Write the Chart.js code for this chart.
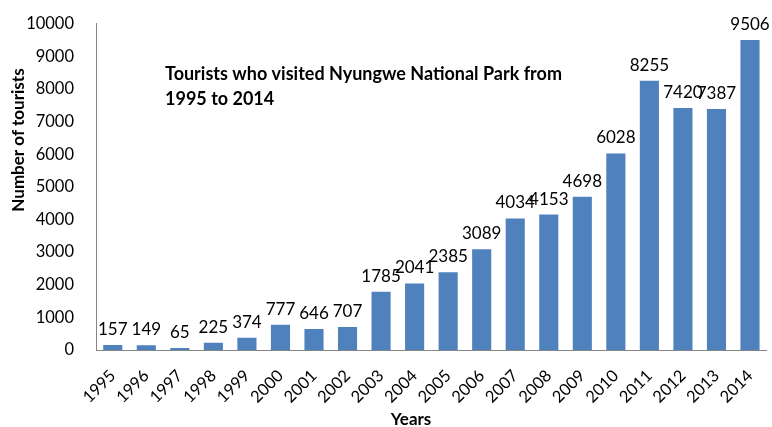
<!DOCTYPE html>
<html>
<head>
<meta charset="utf-8">
<script src="https://cdn.jsdelivr.net/npm/chart.js@4"></script>
<style>
  html, body { margin: 0; padding: 0; background: #fff; }
  #wrap { width: 772px; height: 427px; }
</style>
</head>
<body>
<div id="wrap"><canvas id="chart" width="772" height="427"></canvas></div>
<script>
// Data
const years = ['1995', '1996', '1997', '1998', '1999', '2000', '2001', '2002', '2003', '2004',
  '2005', '2006', '2007', '2008', '2009', '2010', '2011', '2012', '2013', '2014'];
const tourists = [157, 149, 65, 225, 374, 777, 646, 707, 1785, 2041,
  2385, 3089, 4034, 4153, 4698, 6028, 8255, 7420, 7387, 9506];
const titleLines = ['Tourists who visited Nyungwe National Park from', '1995 to 2014'];

const FONT = 'Lato, "Open Sans", sans-serif';

// Value labels above each bar
const valueLabels = {
  id: 'valueLabels',
  afterDatasetsDraw(chart) {
    const ctx = chart.ctx;
    const meta = chart.getDatasetMeta(0);
    ctx.save();
    ctx.font = '17px ' + FONT;
    ctx.fillStyle = '#000';
    ctx.textAlign = 'center';
    ctx.textBaseline = 'bottom';
    meta.data.forEach((bar, i) => {
      ctx.fillText(String(tourists[i]), bar.x, bar.y - 7);
    });
    ctx.restore();
  }
};

// Title inside the plot and axis titles
const textOverlay = {
  id: 'textOverlay',
  afterDraw(chart) {
    const ctx = chart.ctx;
    ctx.save();
    ctx.fillStyle = '#000';
    ctx.font = 'bold 18px ' + FONT;
    ctx.textAlign = 'left';
    ctx.textBaseline = 'alphabetic';
    ctx.fillText(titleLines[0], 165, 80);
    ctx.fillText(titleLines[1], 165, 105);

    ctx.font = 'bold 17px ' + FONT;
    ctx.textAlign = 'center';
    ctx.fillText('Years', 411, 425);

    ctx.translate(19, 140);
    ctx.rotate(-Math.PI / 2);
    ctx.textBaseline = 'middle';
    ctx.fillText('Number of tourists', 0, 0);
    ctx.restore();
  }
};

new Chart(document.getElementById('chart'), {
  type: 'bar',
  data: {
    labels: years,
    datasets: [{
      data: tourists,
      backgroundColor: '#4F81BD',
      borderWidth: 0,
      barPercentage: 0.57,
      categoryPercentage: 1
    }]
  },
  options: {
    responsive: false,
    animation: false,
    layout: { padding: { top: 12, right: 0, left: 0, bottom: 0 } },
    plugins: {
      legend: { display: false },
      tooltip: { enabled: false }
    },
    scales: {
      x: {
        grid: { display: false },
        border: { display: true, color: '#868686', width: 1 },
        ticks: {
          color: '#000',
          font: { family: FONT, size: 16.5 },
          minRotation: 45,
          maxRotation: 45,
          padding: 8
        },
        afterFit(scale) { scale.height = 77; }
      },
      y: {
        min: 0,
        max: 10000,
        grid: { display: false },
        border: { display: true, color: '#868686', width: 1 },
        ticks: {
          stepSize: 1000,
          color: '#000',
          font: { family: FONT, size: 16.5 },
          padding: 14,
          callback: (value) => String(value)
        },
        afterFit(scale) { scale.width = 96; }
      }
    }
  },
  plugins: [valueLabels, textOverlay]
});
</script>
</body>
</html>
